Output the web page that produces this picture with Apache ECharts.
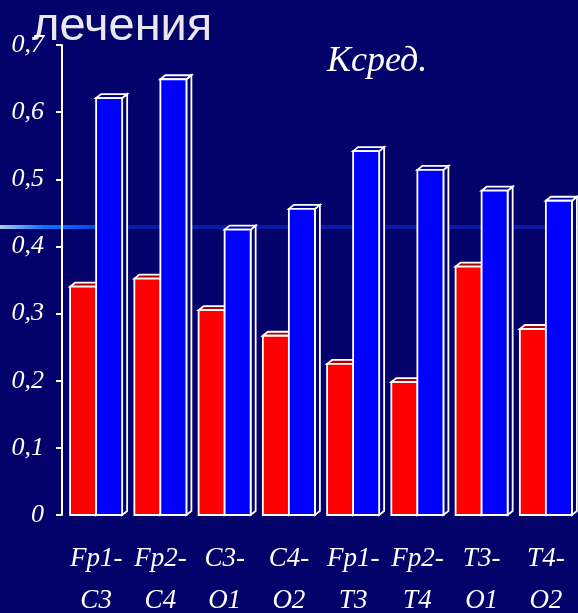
<!DOCTYPE html>
<html>
<head>
<meta charset="utf-8">
<style>
  html, body { margin: 0; padding: 0; background: #02026a; }
  #chart { width: 578px; height: 613px; }
</style>
<script src="https://cdn.jsdelivr.net/npm/echarts@6/dist/echarts.min.js"></script>
</head>
<body>
<div id="chart"></div>
<script>
// Leads (EEG derivations)
const categories = ['Fp1-\nC3', 'Fp2-\nC4', 'C3-\nO1', 'C4-\nO2', 'Fp1-\nT3', 'Fp2-\nT4', 'T3-\nO1', 'T4-\nO2'];
// Mean coefficient values, first and second series
const redValues  = [0.34, 0.352, 0.305, 0.267, 0.225, 0.198, 0.37, 0.277];
const blueValues = [0.621, 0.649, 0.425, 0.456, 0.542, 0.514, 0.483, 0.468];
// Value axis ticks
const yTickLabels = ['0', '0,1', '0,2', '0,3', '0,4', '0,5', '0,6', '0,7'];

const chart = echarts.init(document.getElementById('chart'), null, { renderer: 'canvas' });

const DX = 5, DY = 4;       // depth of the 3D box
const BAR_FRAC = 0.405;     // bar width as share of a category

// Draws one 3D box; side = 0 for the left bar of the pair, 1 for the right one
function boxRenderer(side, frontColor, topColor, sideColor) {
  return function (params, api) {
    const idx = api.value(0);
    const val = api.value(1);
    const base = api.coord([idx, 0]);
    const top = api.coord([idx, val]);
    const w = api.size([1, 0])[0] * BAR_FRAC;
    const x0 = base[0] - w + side * w;
    const x1 = x0 + w;
    const yT = top[1];
    const yB = base[1];
    const stroke = { stroke: '#ffffff', lineWidth: 1.8, lineJoin: 'miter' };
    return {
      type: 'group',
      children: [
        {
          type: 'polygon',
          shape: { points: [[x1, yT], [x1 + DX, yT - DY], [x1 + DX, yB - DY], [x1, yB]] },
          style: Object.assign({ fill: sideColor }, stroke)
        },
        {
          type: 'polygon',
          shape: { points: [[x0, yT], [x0 + DX, yT - DY], [x1 + DX, yT - DY], [x1, yT]] },
          style: Object.assign({ fill: topColor }, stroke)
        },
        {
          type: 'rect',
          shape: { x: x0, y: yT, width: w, height: yB - yT },
          style: Object.assign({ fill: frontColor }, stroke)
        }
      ]
    };
  };
}

const axisFont = {
  color: '#ffffff',
  fontFamily: '"Liberation Serif", "Times New Roman", serif',
  fontStyle: 'italic'
};

const option = {
  backgroundColor: '#02026a',
  animation: false,
  grid: {
    left: 64, right: 0, top: 45, bottom: 98,
    containLabel: false,
    outerBoundsMode: 'none'
  },
  graphic: [
    {
      type: 'rect',
      z: -10,
      shape: { x: 0, y: 225, width: 578, height: 4 },
      style: {
        fill: new echarts.graphic.LinearGradient(0, 0, 1, 0, [
          { offset: 0.0, color: '#a8cce4' },
          { offset: 0.075, color: '#1070ff' },
          { offset: 0.11, color: '#0a66ff' },
          { offset: 0.165, color: '#0846d8' },
          { offset: 0.22, color: '#0a1ca8' },
          { offset: 1.0, color: '#0a18a4' }
        ])
      }
    },
    {
      type: 'text',
      left: 32,
      top: 4,
      style: {
        text: 'лечения',
        fill: '#e8e8ee',
        font: '47px "Liberation Sans", Arial, sans-serif'
      }
    },
    {
      type: 'text',
      left: 327,
      top: 44,
      style: {
        text: 'Kсред.',
        fill: '#ffffff',
        font: 'italic 36px "Liberation Serif", "Times New Roman", serif'
      }
    }
  ],
  xAxis: {
    type: 'category',
    data: categories,
    axisLine: { show: false },
    axisTick: { show: false },
    axisLabel: Object.assign({
      fontSize: 27,
      lineHeight: 42,
      margin: 23,
      interval: 0
    }, axisFont)
  },
  yAxis: {
    type: 'value',
    min: 0,
    max: 0.7,
    interval: 0.1,
    offset: 2,
    splitLine: { show: false },
    axisLine: { show: true, lineStyle: { color: '#ffffff', width: 2 } },
    axisTick: { show: true, length: 6, lineStyle: { color: '#ffffff', width: 2 } },
    axisLabel: Object.assign({
      fontSize: 26,
      margin: 18,
      formatter: function (v) { return yTickLabels[Math.round(v * 10)]; }
    }, axisFont)
  },
  series: [
    {
      type: 'custom',
      name: 'red',
      renderItem: boxRenderer(0, '#ff0000', '#b00000', '#8a0000'),
      data: redValues.map((v, i) => [i, v]),
      encode: { x: 0, y: 1 },
      z: 2
    },
    {
      type: 'custom',
      name: 'blue',
      renderItem: boxRenderer(1, '#0000ff', '#00009a', '#00006e'),
      data: blueValues.map((v, i) => [i, v]),
      encode: { x: 0, y: 1 },
      z: 3
    }
  ]
};

chart.setOption(option);
</script>
</body>
</html>
